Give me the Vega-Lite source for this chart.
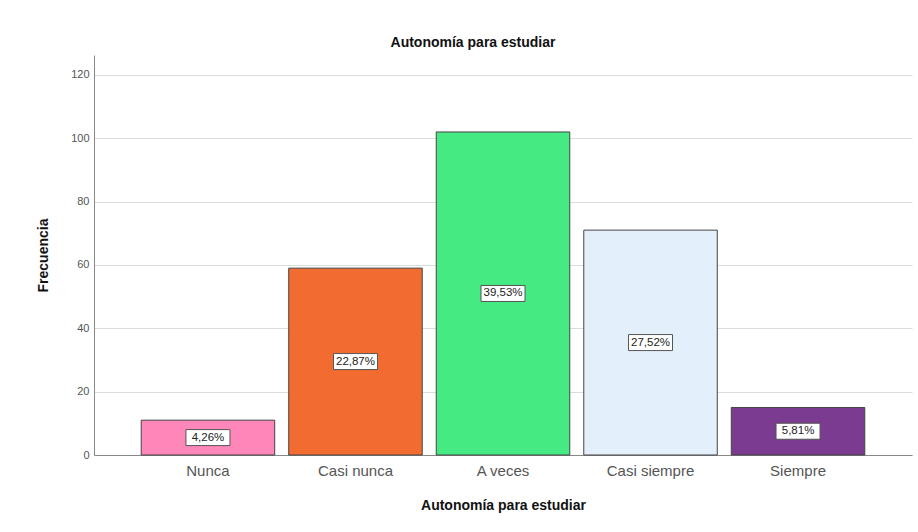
{
  "$schema": "https://vega.github.io/schema/vega-lite/v6.json",
  "width": 818,
  "height": 400,
  "autosize": {"type": "none"},
  "padding": {"left": 94, "top": 55, "right": 6, "bottom": 77},
  "background": "white",
  "config": {
    "font": "Liberation Sans",
    "view": {"stroke": null},
    "locale": {"number": {"decimal": ",", "thousands": ".", "grouping": [3], "currency": ["", " €"]}}
  },
  "title": {
    "text": "Autonomía para estudiar",
    "fontSize": 14,
    "fontWeight": "bold",
    "color": "#111",
    "anchor": "middle",
    "dx": -30,
    "offset": 5
  },
  "data": {
    "values": [
      {"categoria": "Nunca", "frecuencia": 11},
      {"categoria": "Casi nunca", "frecuencia": 59},
      {"categoria": "A veces", "frecuencia": 102},
      {"categoria": "Casi siempre", "frecuencia": 71},
      {"categoria": "Siempre", "frecuencia": 15}
    ]
  },
  "transform": [
    {"joinaggregate": [{"op": "sum", "field": "frecuencia", "as": "total"}]},
    {"calculate": "datum.frecuencia / datum.total", "as": "pct"},
    {"calculate": "datum.frecuencia / 2", "as": "mitad"}
  ],
  "encoding": {
    "x": {
      "field": "categoria",
      "type": "nominal",
      "sort": ["Nunca", "Casi nunca", "A veces", "Casi siempre", "Siempre"],
      "scale": {"paddingInner": 0.095, "paddingOuter": 0.32},
      "axis": {
        "title": "Autonomía para estudiar",
        "titleFontSize": 14,
        "titleFontWeight": "bold",
        "titleColor": "#111",
        "titlePadding": 20,
        "labelAngle": 0,
        "labelFontSize": 15,
        "labelColor": "#555",
        "labelPadding": 8,
        "domainColor": "#888",
        "ticks": false,
        "grid": false
      }
    }
  },
  "layer": [
    {
      "mark": {"type": "bar", "stroke": "#444", "strokeWidth": 1},
      "encoding": {
        "y": {
          "field": "frecuencia",
          "type": "quantitative",
          "scale": {"domain": [0, 126.3], "nice": false},
          "axis": {
            "title": "Frecuencia",
            "titleFontSize": 14,
            "titleFontWeight": "bold",
            "titleColor": "#111",
            "titlePadding": 20,
            "values": [0, 20, 40, 60, 80, 100, 120],
            "labelFontSize": 11,
            "labelColor": "#555",
            "labelPadding": 5,
            "domainColor": "#888",
            "ticks": false,
            "gridColor": "#dcdcdc",
            "gridWidth": 1.2
          }
        },
        "color": {
          "field": "categoria",
          "type": "nominal",
          "scale": {
            "domain": ["Nunca", "Casi nunca", "A veces", "Casi siempre", "Siempre"],
            "range": ["#FF86B9", "#F26B30", "#45EA82", "#E4EFFC", "#7A3B91"]
          },
          "legend": null
        }
      }
    },
    {
      "mark": {"type": "rect", "fill": "white", "stroke": "#555", "strokeWidth": 1, "width": 44, "yOffset": -8, "y2Offset": 8},
      "encoding": {
        "y": {"field": "mitad", "type": "quantitative"},
        "y2": {"field": "mitad"}
      }
    },
    {
      "mark": {"type": "text", "fontSize": 11.5, "color": "#222", "baseline": "middle", "align": "center"},
      "encoding": {
        "y": {"field": "mitad", "type": "quantitative"},
        "text": {"field": "pct", "type": "quantitative", "format": ".2%"}
      }
    }
  ]
}
